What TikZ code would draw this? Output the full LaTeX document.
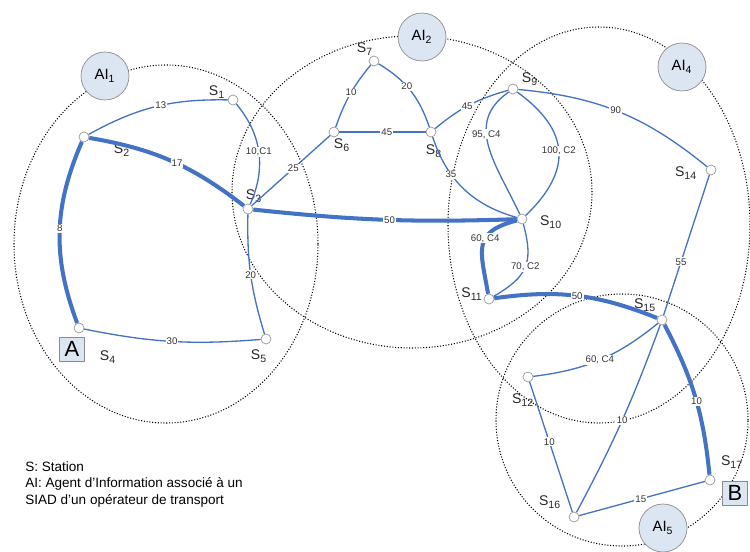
\documentclass[tikz,border=0pt]{standalone}
\usepackage{fontspec}
\setmainfont{Liberation Sans}
\usetikzlibrary{arrows.meta,calc,positioning}

\definecolor{bleulien}{RGB}{68,114,196}
\definecolor{bulle}{RGB}{220,230,242}

\begin{document}
\begin{tikzpicture}[x=0.02cm, y=0.02cm,
    station/.style={circle, draw=gray!80, fill=white, line width=0.4pt, minimum size=0.2cm, inner sep=0pt},
    agent/.style={circle, draw=gray!90, fill=bulle, line width=0.4pt, minimum size=0.96cm, inner sep=0pt, font=\fontsize{8.5}{9}\selectfont},
    extr/.style={rectangle, draw=gray!90, fill=bulle, line width=0.4pt, minimum width=0.5cm, minimum height=0.48cm, inner sep=0pt, font=\fontsize{12.5}{13}\selectfont},
    nom/.style={inner sep=0pt, font=\fontsize{8}{9}\selectfont, text=black!85},
    zone/.style={densely dotted, line width=0.6pt},
    lien/.style={draw=bleulien, line width=0.75pt},
    chemin/.style={draw=bleulien, line width=2.3pt},
    lbl/.style={fill=white, inner sep=0.6pt, font=\fontsize{5.5}{6}\selectfont, text=black!80}]
        \useasboundingbox (0,0) rectangle (750,-551);
        % zones des agents
        \draw[zone] (166,-244) ellipse [x radius=152, y radius=179];
        \draw[zone] (412,-192) ellipse [x radius=180, y radius=156];
        \draw[zone] (599,-225) ellipse [x radius=151, y radius=198];
        \draw[zone] (622,-420) circle [radius=126];
        \node[agent] (ai1) at (105,-76) {AI\textsubscript{1}};
        \node[agent] (ai2) at (422,-37) {AI\textsubscript{2}};
        \node[agent] (ai4) at (682,-67) {AI\textsubscript{4}};
        \node[agent] (ai5) at (663,-528) {AI\textsubscript{5}};
        % stations
        \node[station] (s1) at (233,-100) {};
        \node[station] (s2) at (84,-137) {};
        \node[station] (s3) at (248,-209) {};
        \node[station] (s4) at (79,-328) {};
        \node[station] (s5) at (266,-339) {};
        \node[station] (s6) at (334,-132) {};
        \node[station] (s7) at (374,-61) {};
        \node[station] (s8) at (431,-132) {};
        \node[station] (s9) at (513,-89) {};
        \node[station] (s10) at (522,-219) {};
        \node[station] (s11) at (489,-299) {};
        \node[station] (s12) at (528,-377) {};
        \node[station] (s14) at (711,-170) {};
        \node[station] (s15) at (662,-320) {};
        \node[station] (s16) at (574,-517) {};
        \node[station] (s17) at (710,-480) {};
        \node[nom] (n1) at (217,-92) {S\textsubscript{1}};
        \node[nom] (n2) at (122,-150) {S\textsubscript{2}};
        \node[nom] (n3) at (254,-196) {S\textsubscript{3}};
        \node[nom] (n4) at (108,-357) {S\textsubscript{4}};
        \node[nom] (n5) at (259,-356) {S\textsubscript{5}};
        \node[nom] (n6) at (342,-145) {S\textsubscript{6}};
        \node[nom] (n7) at (365,-49) {S\textsubscript{7}};
        \node[nom] (n8) at (434,-151) {S\textsubscript{8}};
        \node[nom] (n9) at (530,-79) {S\textsubscript{9}};
        \node[nom] (n10) at (551,-222) {S\textsubscript{10}};
        \node[nom] (n11) at (472,-294) {S\textsubscript{11}};
        \node[nom] (n12) at (523,-400) {S\textsubscript{12}};
        \node[nom] (n14) at (686,-173) {S\textsubscript{14}};
        \node[nom] (n15) at (645,-305) {S\textsubscript{15}};
        \node[nom] (n16) at (550,-502) {S\textsubscript{16}};
        \node[nom] (n17) at (732,-462) {S\textsubscript{17}};
        \node[extr] (depart) at (72,-349) {A};
        \node[extr] (arrivee) at (735,-493) {B};
        % liaisons
        \draw[lien] (s2) to[bend left=15] node[lbl,pos=0.54]{13} (s1);
        \draw[chemin] (s2) to[bend left=14] node[lbl,pos=0.54]{17} (s3);
        \draw[lien] (s1) to[bend left=32] node[lbl]{10,C1} (s3);
        \draw[chemin] (s2) to[bend right=22] node[lbl,pos=0.48]{8} (s4);
        \draw[lien] (s4) to[bend right=8] node[lbl]{30} (s5);
        \draw[lien] (s3) to[bend right=9] node[lbl]{20} (s5);
        \draw[lien] (s3) -- node[lbl,pos=0.53]{25} (s6);
        \draw[lien] (s6) to[bend left=10] node[lbl,pos=0.53]{10} (s7);
        \draw[lien] (s7) to[bend left=20] node[lbl,pos=0.43]{20} (s8);
        \draw[lien] (s6) -- node[lbl,pos=0.55]{45} (s8);
        \draw[lien] (s8) to[bend left=12] node[lbl,pos=0.47]{45} (s9);
        \draw[lien] (s8) to[bend right=28] node[lbl,pos=0.33]{35} (s10);
        \draw[chemin] (s3) to[bend right=4] node[lbl,pos=0.52]{50} (s10);
        \draw[lien] (s9) to[out=215,in=115,looseness=1.15] node[lbl,pos=0.4]{95, C4} (s10);
        \draw[lien] (s9) to[bend left=50,looseness=1.35] node[lbl]{100, C2} (s10);
        \draw[chemin] (s10) to[out=195,in=100,looseness=1.5] node[lbl,pos=0.4]{60, C4} (s11);
        \draw[lien] (s10) to[out=-75,in=30,looseness=1.3] node[lbl]{70, C2} (s11);
        \draw[lien] (s9) to[bend left=17] node[lbl,pos=0.48]{90} (s14);
        \draw[chemin] (s11) to[bend left=15] node[lbl]{50} (s15);
        \draw[lien] (s14) -- node[lbl,pos=0.62]{55} (s15);
        \draw[lien] (s15) to[bend left=16] node[lbl]{60, C4} (s12);
        \draw[chemin] (s15) to[bend left=11] node[lbl,pos=0.53]{10} (s17);
        \draw[lien] (s15) to[bend left=4] node[lbl]{10} (s16);
        \draw[lien] (s12) -- node[lbl,pos=0.46]{10} (s16);
        \draw[lien] (s16) -- node[lbl,pos=0.49]{15} (s17);
        % legende
        \node[anchor=north west, align=left, inner sep=0pt, font=\fontsize{7.7}{9.4}\selectfont] (legende) at (25,-461)
            {S: Station\\AI: Agent d’Information associé à un\\SIAD d’un opérateur de transport};
\end{tikzpicture}
\end{document}
